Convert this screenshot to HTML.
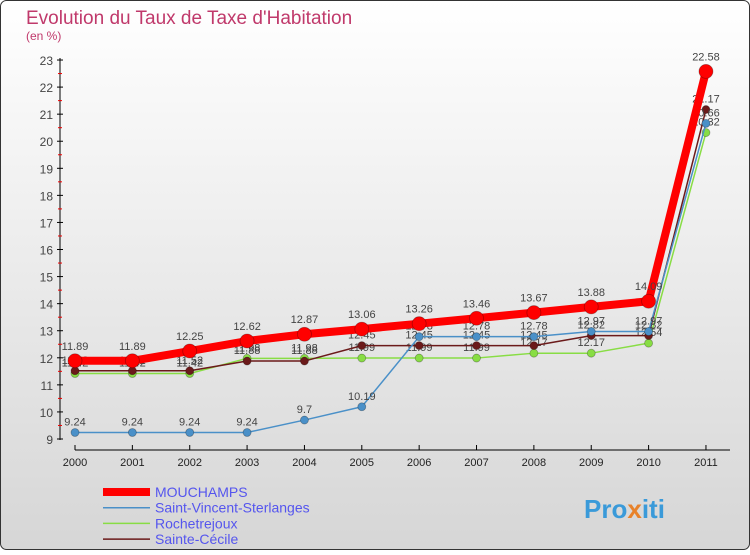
<!DOCTYPE html>
<html><head><meta charset="utf-8"><style>
body{margin:0;width:750px;height:550px;overflow:hidden;font-family:"Liberation Sans",sans-serif}
</style></head><body>
<svg width="750" height="550" xmlns="http://www.w3.org/2000/svg">
<defs><linearGradient id="bg" x1="0" y1="0" x2="0" y2="1"><stop offset="0" stop-color="#ffffff"/><stop offset="1" stop-color="#d6d6d6"/></linearGradient></defs>
<rect x="0.5" y="0.5" width="749" height="549" rx="6" fill="url(#bg)" stroke="#333"/>
<text x="26" y="24" font-size="19" fill="#c0396b">Evolution du Taux de Taxe d'Habitation</text>
<text x="26" y="40" font-size="12" fill="#c0396b">(en %)</text>
<g id="axes"></g><g id="series"></g><g id="legend"></g>
<text x="584" y="518" font-size="26" font-weight="bold" fill="#3a9ad9">Pro<tspan fill="#e8822a">x</tspan>iti</text>
</svg>
<script>
const years=["2000","2001","2002","2003","2004","2005","2006","2007","2008","2009","2010","2011"];
const yTicks=[9,10,11,12,13,14,15,16,17,18,19,20,21,22,23];
const mouchamps=[11.89,11.89,12.25,12.62,12.87,13.06,13.26,13.46,13.67,13.88,14.09,22.58];
const saintVincent=[9.24,9.24,9.24,9.24,9.7,10.19,12.78,12.78,12.78,12.97,12.97,20.66];
const rochetrejoux=[11.42,11.42,11.42,11.98,11.98,11.99,11.99,11.99,12.17,12.17,12.54,20.32];
const sainteCecile=[11.52,11.52,11.52,11.88,11.88,12.45,12.45,12.45,12.45,12.82,12.82,21.17];
const seriesNames=["MOUCHAMPS","Saint-Vincent-Sterlanges","Rochetrejoux","Sainte-Cécile"];
const NS="http://www.w3.org/2000/svg";
const X=i=>75+i*57.36, Y=v=>439-(v-9)*27.07;
function mk(t,a,p){const e=document.createElementNS(NS,t);for(const k in a)e.setAttribute(k,a[k]);p.appendChild(e);return e;}
const ax=document.getElementById('axes');
let e=mk('line',{x1:60,y1:58,x2:60,y2:440,stroke:'#000'},ax);


e=mk('line',{x1:X(0),y1:450,x2:730,y2:450,stroke:'#000'},ax);


yTicks.forEach(v=>{
  mk('line',{x1:57,y1:Y(v),x2:63,y2:Y(v),stroke:'#000'},ax);
  if(v<23)mk('line',{x1:58,y1:Y(v+0.5),x2:62,y2:Y(v+0.5),stroke:'#e00'},ax);
  const t=mk('text',{x:53,y:Y(v)+5,'font-size':12,fill:'#444','text-anchor':'end'},ax);t.textContent=v;
  
  
});
years.forEach((y,i)=>{
  mk('line',{x1:X(i),y1:445,x2:X(i),y2:450,stroke:'#000'},ax);
  const t=mk('text',{x:X(i),y:466,'font-size':11,fill:'#222','text-anchor':'middle'},ax);t.textContent=y;
  
  
});
const sg=document.getElementById('series');
function draw(data,color,lw,r,name,dy){
  const g=mk('g',{},sg);
  
  
  mk('polyline',{points:data.map((v,i)=>X(i)+','+Y(v)).join(' '),fill:'none',stroke:color,'stroke-width':lw,'stroke-linejoin':'round'},g);
  data.forEach((v,i)=>{
    const c=mk('circle',{cx:X(i),cy:Y(v),r:r,fill:color,stroke:'rgba(0,0,0,0.3)','stroke-width':0.8},g);
    
    
    const t=mk('text',{x:X(i),y:Y(v)-dy,'font-size':11,fill:'#444','text-anchor':'middle'},g);t.textContent=v;
  });
}
draw(rochetrejoux,'#88dd44',1.5,4,'series-rochetrejoux',7);
draw(sainteCecile,'#6b1a1a',1.5,4,'series-sainte-cecile',7);
draw(saintVincent,'#4a90c8',1.5,4,'series-saint-vincent',7);
draw(mouchamps,'#ff0000',8,7,'series-mouchamps',11);
const lg=document.getElementById('legend');
const lc=['#ff0000','#4a90c8','#88dd44','#6b1a1a'],lw=[8,1.5,1.5,1.5];
seriesNames.forEach((n,i)=>{
  const y=492+i*15.7;
  const g=mk('g',{},lg);
  
  
  mk('line',{x1:103,y1:y,x2:150,y2:y,stroke:lc[i],'stroke-width':lw[i]},g);
  const t=mk('text',{x:155,y:y+5,'font-size':14,fill:'#5555ee'},g);t.textContent=n;
});
</script>
</body></html>
